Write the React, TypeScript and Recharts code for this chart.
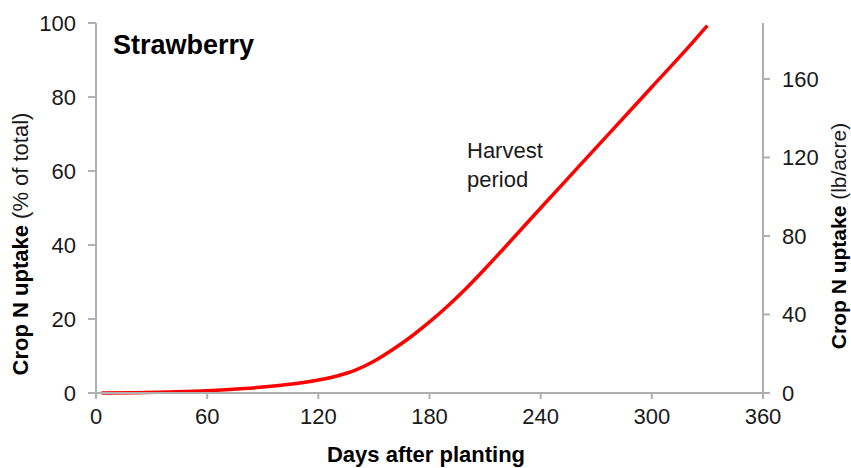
import React from 'react';
import {
  LineChart,
  Line,
  XAxis,
  YAxis,
  Customized
} from 'recharts';

const days = [3, 20, 40, 60, 80, 100, 110, 120, 130, 140, 150, 160, 170, 180, 190, 200, 210, 220, 240, 260, 280, 300, 320, 330];
const uptakePct = [0, 0.1, 0.3, 0.6, 1.2, 2.1, 2.7, 3.5, 4.6, 6.2, 8.6, 11.7, 15.2, 19.2, 23.6, 28.4, 33.6, 39.0, 50.0, 60.9, 71.8, 82.7, 93.6, 99.3];

const xTicks = [0, 60, 120, 180, 240, 300, 360];
const leftTicks = [0, 20, 40, 60, 80, 100];
const rightTicks = [0, 40, 80, 120, 160];

const data = days.map((d, i) => ({ day: d, pct: uptakePct[i] }));

const FONT = '"Liberation Sans", Arial, sans-serif';
const AXIS = '#b0b0b0';
const TEXT = '#1a1a1a';

function Annotations() {
  return (
    <g fontFamily={FONT} fill={TEXT}>
      <text x={113} y={54} fontSize={27} fontWeight="bold" fill="#000">Strawberry</text>
      <text x={467} y={158} fontSize={22}>Harvest</text>
      <text x={467} y={187} fontSize={22}>period</text>
      <text x={426} y={462} fontSize={22} fontWeight="bold" fill="#000" textAnchor="middle">
        Days after planting
      </text>
      <text x={28} y={244} fontSize={22} textAnchor="middle" transform="rotate(-90 28 244)">
        <tspan fontWeight="bold" fill="#000">Crop N uptake</tspan>
        <tspan> (% of total)</tspan>
      </text>
      <text x={846} y={236} fontSize={21} textAnchor="middle" transform="rotate(-90 846 236)">
        <tspan fontWeight="bold" fill="#000">Crop N uptake</tspan>
        <tspan> (lb/acre)</tspan>
      </text>
    </g>
  );
}

export default function App() {
  const tickStyle = { fill: TEXT, fontSize: 22, fontFamily: FONT };
  return (
    <div style={{ position: 'absolute', left: 0, top: 0, background: '#fff' }}>
      <LineChart
        width={851}
        height={468}
        data={data}
        margin={{ top: 23, right: 0, left: 0, bottom: 0 }}
      >
        <XAxis
          dataKey="day"
          type="number"
          domain={[0, 360]}
          ticks={xTicks}
          height={75}
          stroke={AXIS}
          strokeWidth={2}
          tickSize={6}
          tickMargin={9}
          tick={tickStyle}
          interval={0}
        />
        <YAxis
          yAxisId="left"
          domain={[0, 100]}
          ticks={leftTicks}
          width={96}
          stroke={AXIS}
          strokeWidth={2}
          tickSize={8}
          tickMargin={12}
          tick={tickStyle}
          interval={0}
        />
        <YAxis
          yAxisId="right"
          orientation="right"
          domain={[0, 188.5]}
          ticks={rightTicks}
          width={88}
          stroke={AXIS}
          strokeWidth={2}
          tickSize={7}
          tickMargin={12}
          tick={tickStyle}
          interval={0}
        />
        {/* invisible series so the lb/acre axis gets its ticks */}
        <Line
          yAxisId="right"
          dataKey="pct"
          stroke="none"
          dot={false}
          activeDot={false}
          isAnimationActive={false}
        />
        <Line
          yAxisId="left"
          type="monotone"
          dataKey="pct"
          stroke="#ff0000"
          strokeWidth={3.5}
          dot={false}
          isAnimationActive={false}
        />
        <Customized component={Annotations} />
      </LineChart>
    </div>
  );
}
